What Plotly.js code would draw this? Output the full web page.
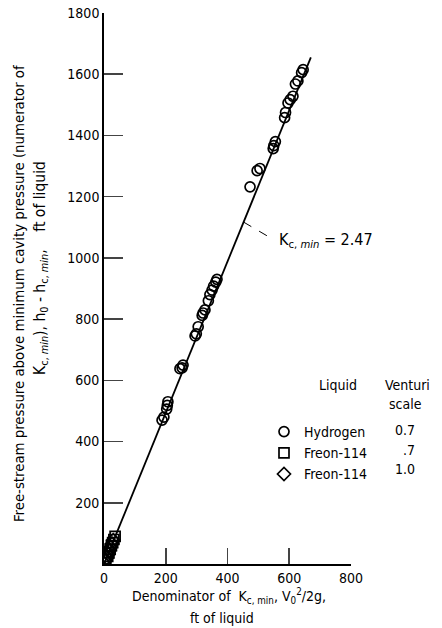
<!DOCTYPE html>
<html>
<head>
<meta charset="utf-8">
<script src="https://cdn.plot.ly/plotly-3.0.1.min.js"></script>
<style>
html,body{margin:0;padding:0;background:#fff;}
#chart{width:442px;height:628px;}
</style>
</head>
<body>
<div id="chart"></div>
<script>
// ---- data ----
const hydrogenX = [645, 640, 628, 620, 612, 603, 596, 588, 585, 555, 550, 548, 505, 496, 473, 366, 362, 355, 350, 343, 338, 327, 321, 318, 305, 299, 295, 256, 253, 246, 207, 205, 203, 194, 188];
const hydrogenY = [1615, 1605, 1578, 1568, 1528, 1517, 1506, 1475, 1458, 1380, 1367, 1357, 1292, 1285, 1232, 930, 921, 908, 895, 880, 860, 830, 820, 812, 775, 752, 745, 650, 641, 638, 530, 518, 506, 480, 470];
const freon07X = [36, 32, 28, 24, 20, 16, 12, 6];
const freon07Y = [90, 80, 70, 60, 48, 36, 25, 5];
const freon10X = [30, 26, 22, 18, 14, 9, 4];
const freon10Y = [78, 66, 55, 44, 32, 20, 10];
const fitX = [0, 670];
const fitY = [0, 1655];
const kLabel = 'K<sub>c, <i>min</i></sub> = 2.47';
const xTicks = [0, 200, 400, 600, 800];
const yTicks = [200, 400, 600, 800, 1000, 1200, 1400, 1600, 1800];
const legendNames = ['Hydrogen', 'Freon-114', 'Freon-114'];
const scaleValues = ['0.7', '.7', '1.0'];

const FONT = "'DejaVu Sans Condensed', 'Liberation Sans Narrow', 'Liberation Sans', sans-serif";
const mk = (sym) => ({symbol: sym, size: 10, color: '#000', line: {color: '#000', width: 1.7}});

const traces = [
  {x: fitX, y: fitY, mode: 'lines', line: {color: '#000', width: 1.8}, showlegend: false, hoverinfo: 'skip'},
  {x: hydrogenX, y: hydrogenY, mode: 'markers', name: legendNames[0], marker: mk('circle-open')},
  {x: freon07X, y: freon07Y, mode: 'markers', name: legendNames[1], marker: mk('square-open')},
  {x: freon10X, y: freon10Y, mode: 'markers', name: legendNames[2], marker: mk('diamond-open')}
];

const W = 247, H = 551, L = 104, T = 13;
const px = (p) => (p - L) / W;
const py = (p) => (T + H - p) / H;

const ann = (text, x, y, opts) => Object.assign({text, xref: 'paper', yref: 'paper', x: px(x), y: py(y), xanchor: 'center', yanchor: 'middle', showarrow: false, font: {family: FONT, size: 14, color: '#000'}}, opts || {});

const annotations = [
  ann('Free-stream pressure above minimum cavity pressure (numerator of', 18, 294, {textangle: -90, font: {family: FONT, size: 14.8, color: '#000'}}),
  ann('K<sub>c, <i>min</i></sub>), h<sub>0</sub> - h<sub>c, <i>min</i></sub>,&nbsp;&nbsp;&nbsp;&nbsp;ft of liquid', 41, 268, {textangle: -90, font: {family: FONT, size: 15.5, color: '#000'}}),
  ann('Denominator of  K<sub>c, min</sub>, V<sub>0</sub><sup>2</sup>/2g,', 229, 596),
  ann('ft of liquid', 222, 618),
  ann(kLabel, 277, 240, {xanchor: 'left', font: {family: FONT, size: 16, color: '#000'}}),
  ann('Liquid', 338, 385),
  ann('Venturi', 407, 385),
  ann('scale', 405, 404),
  ann(scaleValues[0], 417, 430, {xanchor: 'right'}),
  ann(scaleValues[1], 417, 450, {xanchor: 'right'}),
  ann(scaleValues[2], 417, 469, {xanchor: 'right'})
];

const layout = {
  width: 442, height: 628,
  margin: {l: L, r: 442 - L - W, t: T, b: 628 - T - H},
  paper_bgcolor: '#fff', plot_bgcolor: '#fff',
  font: {family: FONT, size: 14, color: '#000'},
  xaxis: {range: [0, 800], tickvals: xTicks, ticktext: xTicks.map(String), ticks: 'inside', ticklen: 16, tickwidth: 1.6,
          showline: true, linecolor: '#000', linewidth: 1.8, showgrid: false, zeroline: false,
          tickfont: {family: FONT, size: 14, color: '#000'}},
  yaxis: {range: [0, 1800], tickvals: yTicks, ticktext: yTicks.map(String), ticks: 'inside', ticklen: 19, tickwidth: 1.6,
          showline: true, linecolor: '#000', linewidth: 1.8, showgrid: false, zeroline: false,
          tickfont: {family: FONT, size: 14, color: '#000'}},
  showlegend: true,
  legend: {x: px(264), y: py(416), xanchor: 'left', yanchor: 'top', bgcolor: 'rgba(0,0,0,0)', borderwidth: 0,
           font: {family: FONT, size: 14, color: '#000'}, tracegroupgap: 0},
  shapes: [
    {type: 'line', xref: 'x', yref: 'y', x0: 452, y0: 1117, x1: 535, y1: 1068, line: {color: '#000', width: 1, dash: 'dash'}}
  ],
  annotations: annotations
};

Plotly.newPlot('chart', traces, layout, {displayModeBar: false, staticPlot: true});
</script>
</body>
</html>
